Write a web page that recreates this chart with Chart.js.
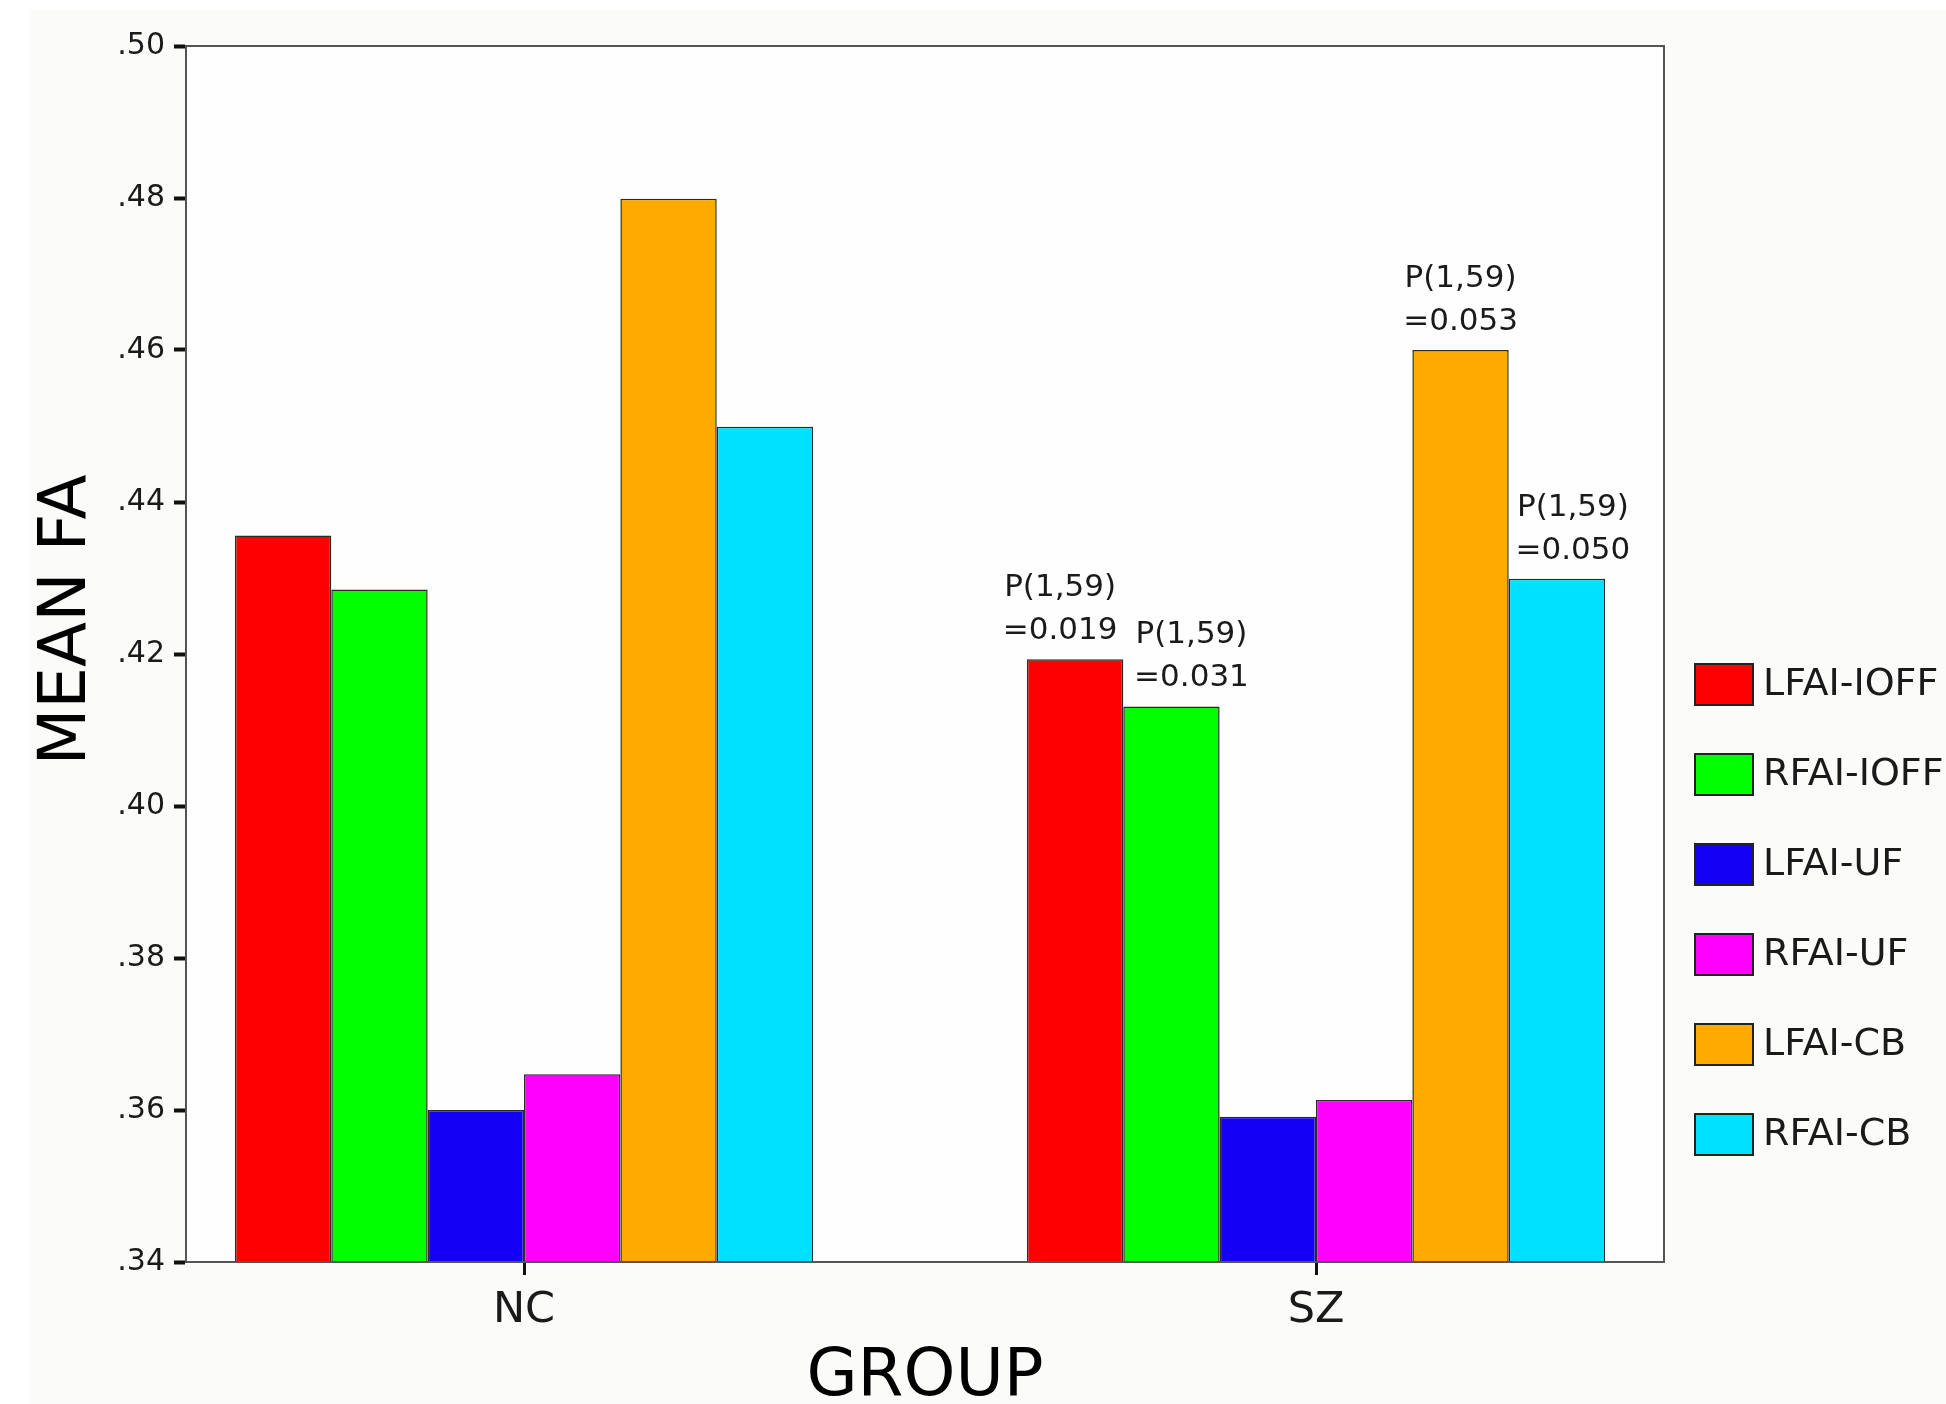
<!DOCTYPE html>
<html>
<head>
<meta charset="utf-8">
<title>Mean FA by group</title>
<script src="https://cdn.jsdelivr.net/npm/chart.js@4.4.1/dist/chart.umd.min.js"></script>
<style>
  html, body { margin: 0; padding: 0; background: #fff; }
  canvas { display: block; }
</style>
</head>
<body>
<canvas id="faChart" width="1946" height="1404"></canvas>
<script>
// data
const groups = ['NC', 'SZ'];
const seriesNames = ['LFAI-IOFF', 'RFAI-IOFF', 'LFAI-UF', 'RFAI-UF', 'LFAI-CB', 'RFAI-CB'];
const lfaiIoff = [0.4356, 0.4193];
const rfaiIoff = [0.4285, 0.4131];
const lfaiUf = [0.3600, 0.3591];
const rfaiUf = [0.3647, 0.3613];
const lfaiCb = [0.4799, 0.4600];
const rfaiCb = [0.4499, 0.4299];
const seriesValues = [lfaiIoff, rfaiIoff, lfaiUf, rfaiUf, lfaiCb, rfaiCb];
const seriesColors = ['#ff0000', '#00ff00', '#1400f5', '#ff00ff', '#ffaa00', '#00e1ff'];
const yTicks = [0.34, 0.36, 0.38, 0.40, 0.42, 0.44, 0.46, 0.48, 0.50];

// p-value notes over the SZ bars
const pNotes = [
    { series: 0, group: 1, lines: ['P(1,59)', '=0.019'], dx: -15 },
    { series: 1, group: 1, lines: ['P(1,59)', '=0.031'], dx: 20 },
    { series: 4, group: 1, lines: ['P(1,59)', '=0.053'], dx: 0 },
    { series: 5, group: 1, lines: ['P(1,59)', '=0.050'], dx: 16 }
];

const FONT = '"DejaVu Sans", sans-serif';
const INK = '#1a1a1a';

const background = {
    id: 'background',
    beforeDraw(chart) {
        const { ctx, width, height, chartArea: a } = chart;
        ctx.save();
        ctx.fillStyle = '#ffffff';
        ctx.fillRect(0, 0, width, height);
        ctx.fillStyle = '#fbfbf9';
        ctx.fillRect(30, 10, width - 30, height - 10);
        ctx.fillStyle = '#fefefe';
        ctx.fillRect(a.left, a.top, a.right - a.left, a.bottom - a.top);
        ctx.restore();
    }
};

const frame = {
    id: 'frame',
    afterDraw(chart) {
        const { ctx, chartArea: a } = chart;
        ctx.save();
        ctx.strokeStyle = '#555';
        ctx.lineWidth = 2;
        ctx.strokeRect(a.left, a.top, a.right - a.left, a.bottom - a.top);

        // y axis title, sits a bit above the axis middle as in the original
        ctx.translate(68, 620);
        ctx.rotate(-Math.PI / 2);
        ctx.font = '66px ' + FONT;
        ctx.fillStyle = '#000';
        ctx.textAlign = 'center';
        ctx.textBaseline = 'middle';
        ctx.fillText('MEAN FA', 0, 0);
        ctx.restore();
    }
};

const pValues = {
    id: 'pValues',
    afterDatasetsDraw(chart) {
        const ctx = chart.ctx;
        ctx.save();
        ctx.font = '31px ' + FONT;
        ctx.fillStyle = INK;
        ctx.textAlign = 'center';
        ctx.textBaseline = 'middle';
        pNotes.forEach(p => {
            const bar = chart.getDatasetMeta(p.series).data[p.group];
            const x = bar.x + p.dx;
            ctx.fillText(p.lines[0], x, bar.y - 71);
            ctx.fillText(p.lines[1], x, bar.y - 28);
        });
        ctx.restore();
    }
};

const sideLegend = {
    id: 'sideLegend',
    afterDraw(chart) {
        const ctx = chart.ctx;
        const left = chart.chartArea.right + 31;
        ctx.save();
        ctx.font = '38px ' + FONT;
        ctx.textBaseline = 'middle';
        chart.data.datasets.forEach((ds, i) => {
            const cy = 684 + i * 90;
            ctx.fillStyle = ds.backgroundColor;
            ctx.fillRect(left, cy - 20, 58, 41);
            ctx.strokeStyle = '#222';
            ctx.lineWidth = 2;
            ctx.strokeRect(left, cy - 20, 58, 41);
            ctx.fillStyle = INK;
            ctx.fillText(ds.label, left + 68, cy + 1);
        });
        ctx.restore();
    }
};

new Chart(document.getElementById('faChart'), {
    type: 'bar',
    data: {
        datasets: seriesNames.map((name, i) => ({
            label: name,
            data: seriesValues[i].map((v, g) => ({ x: g, y: v })),
            backgroundColor: seriesColors[i],
            borderColor: '#2a2a2a',
            borderWidth: 1.5,
            categoryPercentage: 0.73,
            barPercentage: 1
        }))
    },
    options: {
        responsive: false,
        animation: false,
        devicePixelRatio: 1,
        layout: { padding: { left: 0, right: 282, top: 46, bottom: 0 } },
        plugins: {
            legend: { display: false },
            tooltip: { enabled: false }
        },
        scales: {
            x: {
                type: 'linear',
                min: -0.4268,
                max: 1.4394,
                offset: false,
                afterBuildTicks: scale => { scale.ticks = groups.map((g, i) => ({ value: i })); },
                afterFit: scale => { scale.height = 142; },
                ticks: {
                    autoSkip: false,
                    padding: 10,
                    color: INK,
                    font: { family: FONT, size: 43 },
                    callback: v => groups[v]
                },
                grid: { display: true, drawOnChartArea: false, offset: false, tickLength: 13, tickWidth: 3, tickColor: '#111' },
                border: { display: true, color: '#444', width: 2 },
                title: {
                    display: true,
                    text: 'GROUP',
                    color: '#000',
                    font: { family: FONT, size: 66, lineHeight: 0.8 },
                    padding: { top: 0, bottom: 0 }
                }
            },
            y: {
                min: 0.34,
                max: 0.50,
                afterBuildTicks: scale => { scale.ticks = yTicks.map(v => ({ value: v })); },
                afterFit: scale => { scale.width = 186; },
                ticks: {
                    padding: 9,
                    color: INK,
                    font: { family: FONT, size: 30 },
                    callback: v => v.toFixed(2).replace(/^0/, '')
                },
                grid: { display: true, drawOnChartArea: false, tickLength: 12, tickWidth: 4, tickColor: '#111' },
                border: { display: true, color: '#444', width: 2 },
                title: { display: false }
            }
        }
    },
    plugins: [background, frame, pValues, sideLegend]
});
</script>
</body>
</html>
